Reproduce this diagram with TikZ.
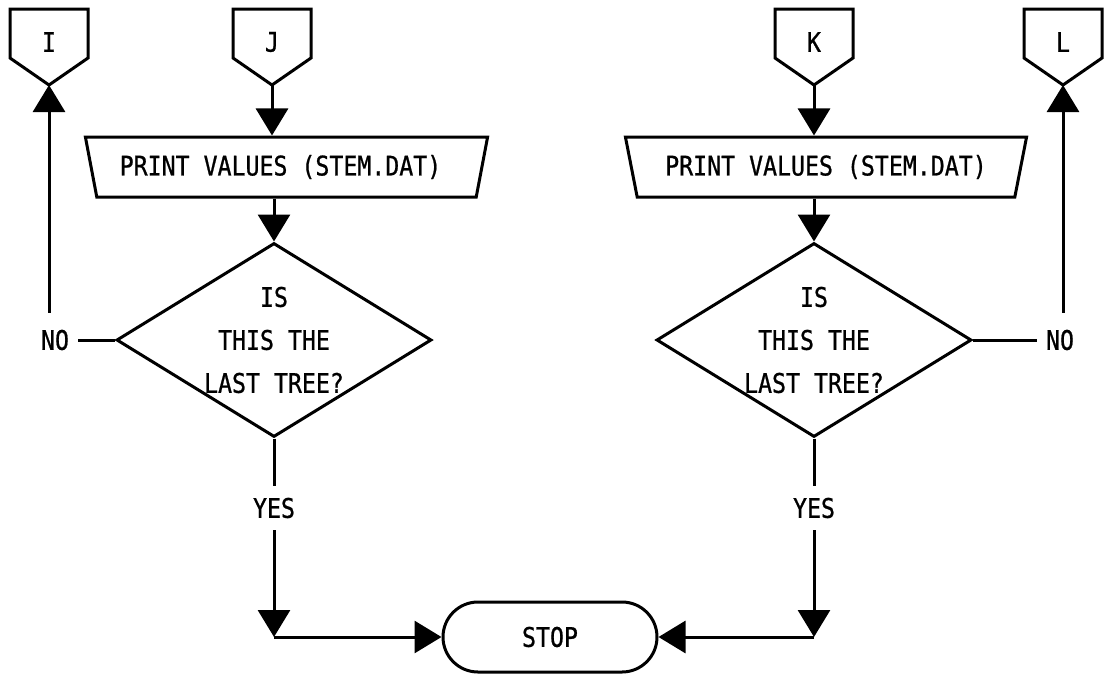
\documentclass[tikz,border=0pt]{standalone}
\usepackage{fontspec}
\newfontfamily\flowfont[FakeStretch=0.86,FakeBold=0.8]{DejaVu Sans Mono}
\usetikzlibrary{shapes.geometric,arrows.meta,calc}

% off-page connector: pentagon pointing down, tip named <name>tip
\newcommand\offpageconn[3]{%
  \node[flowtext] (#1) at (#2,42) {#3};
  \draw[flowline] (#2-39,9) -- (#2+39,9) -- (#2+39,58) -- (#2,85) -- (#2-39,58) -- cycle;
  \coordinate (#1tip) at (#2,85);}

\begin{document}
\begin{tikzpicture}[x=1pt,y=-1pt,
  flowline/.style={line width=3pt, line join=miter},
  arr/.style={flowline, -{Triangle[length=27pt,width=32pt]}},
  flowtext/.style={font=\flowfont\fontsize{27}{43}\selectfont, inner sep=0pt},
  printbox/.style={trapezium, draw, flowline, trapezium stretches=true,
    shape border rotate=180, trapezium left angle=67.4, trapezium right angle=67.4,
    minimum width=403pt, minimum height=60pt, inner sep=0pt,
    font=\flowfont\fontsize{27}{43}\selectfont},
  decision/.style={diamond, draw, flowline, minimum width=315pt, minimum height=194pt, inner sep=0pt},
  question/.style={flowtext, align=center},
  yeslabel/.style={flowtext, inner xsep=4pt, inner ysep=12pt},
  nolabel/.style={flowtext, inner xsep=9pt, inner ysep=17pt},
  terminal/.style={draw, flowline, rounded corners=35pt, minimum width=214pt, minimum height=70pt,
    font=\flowfont\fontsize{27}{43}\selectfont}]

\useasboundingbox (0,0) rectangle (1105,675);

% connectors to and from other pages
\offpageconn{I}{49}{I}
\offpageconn{J}{272}{J}
\offpageconn{K}{814}{K}
\offpageconn{L}{1063}{L}

% print steps
\node[printbox] (P1) at (286.5,167) {PRINT VALUES (STEM.DAT)\hspace*{12pt}};
\node[printbox] (P2) at (826,167) {PRINT VALUES (STEM.DAT)};

% decisions
\node[decision] (D1) at (274,340) {};
\node[question] at (D1) {IS\\THIS THE\\LAST TREE?};
\node[decision] (D2) at (814,340) {};
\node[question] at (D2) {IS\\THIS THE\\LAST TREE?};

% branch labels
\node[nolabel] (N1) at (55,340) {NO};
\node[nolabel] (N2) at (1060,340) {NO};
\node[yeslabel] (Y1) at (274,508) {YES};
\node[yeslabel] (Y2) at (814,508) {YES};

% end
\node[terminal] (S) at (550,637) {STOP};
\coordinate (c1) at (Y1 |- S);
\coordinate (c2) at (Y2 |- S);

% flow
\draw[arr] (Jtip) -- (P1.north -| Jtip);
\draw[arr] (Ktip) -- (P2.north -| Ktip);
\draw[arr] (P1.south -| D1) -- (D1.north);
\draw[arr] (P2.south -| D2) -- (D2.north);
\draw[flowline] (D1.west) -- (N1.east);
\draw[flowline] (D2.east) -- (N2.west);
\draw[arr] (N1.north -| Itip) -- (Itip);
\draw[arr] (N2.north -| Ltip) -- (Ltip);
\draw[flowline] (D1.south) -- (Y1.north);
\draw[flowline] (D2.south) -- (Y2.north);
\draw[arr] (Y1.south) -- (c1);
\draw[arr] (Y2.south) -- (c2);
\draw[arr] (c1) -- (S.west);
\draw[arr] (c2) -- (S.east);
\end{tikzpicture}
\end{document}
